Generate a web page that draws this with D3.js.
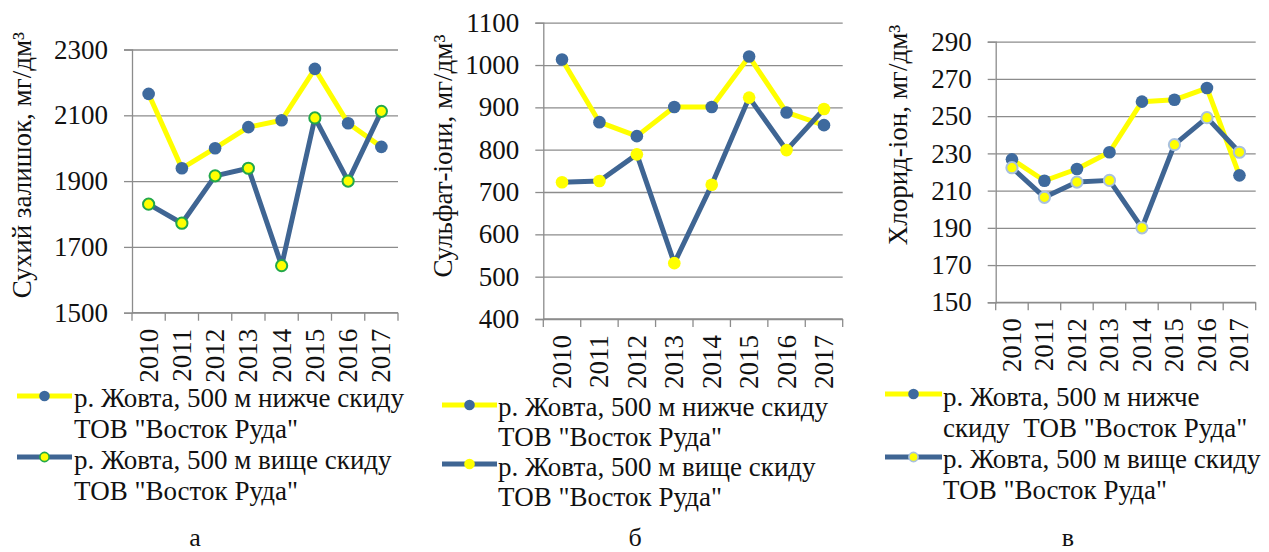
<!DOCTYPE html>
<html>
<head>
<meta charset="utf-8">
<script src="https://cdn.jsdelivr.net/npm/d3@7"></script>
<style>
  html, body { margin: 0; padding: 0; background: #fff; }
  svg text { font-family: "Liberation Serif", "Times New Roman", "DejaVu Serif", serif; }
</style>
</head>
<body>
<svg id="chart" width="1269" height="552"></svg>
<script>
// Years shared by all three panels
const years = ["2010", "2011", "2012", "2013", "2014", "2015", "2016", "2017"];

// а — dry residue, mg/dm³
const dryBelow = [2165, 1939, 2000, 2064, 2085, 2241, 2076, 2004];
const dryAbove = [1830, 1772, 1916, 1939, 1643, 2092, 1900, 2112];
const dryTicks = [1500, 1700, 1900, 2100, 2300];

// б — sulfate ions, mg/dm³
const sulfBelow = [1013, 865, 832, 901, 901, 1020, 888, 858];
const sulfAbove = [723, 726, 789, 532, 717, 923, 799, 896];
const sulfTicks = [400, 500, 600, 700, 800, 900, 1000, 1100];

// в — chloride ion, mg/dm³
const chlorBelow = [226.8, 215.3, 221.6, 230.6, 257.8, 258.8, 265.1, 218.2];
const chlorAbove = [222.3, 206.4, 214.6, 215.5, 190, 234.7, 249.2, 230.6];
const chlorTicks = [150, 170, 190, 210, 230, 250, 270, 290];

const SERIF = "'Liberation Serif', 'Times New Roman', 'DejaVu Serif', serif";
const YELLOW = "#ffff00";
const BLUE_LINE = "#3f6593";
const BLUE_DOT = "#3e6a9e";
const GRID = "#8c8c8c";
const TICK_FONT = 27;
const TITLE_FONT = 27;
const LEGEND_FONT = 27;

const svg = d3.select("#chart");

const panels = [
  {
    below: dryBelow, above: dryAbove, ticks: dryTicks,
    x0: 132, x1: 398, yBottom: 312.7, yTop: 49.5,
    title: "Сухий залишок, мг/дм³", titleX: 22, titleY: 165,
    aboveStroke: "#22a84a",
    legend: { sx0: 17, sx1: 72, tx: 74, sy: [396, 457], ty: [398, 429, 460, 491],
              lines: [["р. Жовта, 500 м нижче скиду", "ТОВ \"Восток Руда\""],
                      ["р. Жовта, 500 м вище скиду", "ТОВ \"Восток Руда\""]] },
    caption: "а", capX: 195
  },
  {
    below: sulfBelow, above: sulfAbove, ticks: sulfTicks,
    x0: 543.3, x1: 842.7, yBottom: 319, yTop: 22.7,
    title: "Сульфат-іони, мг/дм³", titleX: 443, titleY: 156,
    aboveStroke: null,
    legend: { sx0: 442, sx1: 497, tx: 498, sy: [405, 464], ty: [407, 437, 467, 497],
              lines: [["р. Жовта, 500 м нижче скиду", "ТОВ \"Восток Руда\""],
                      ["р. Жовта, 500 м вище скиду", "ТОВ \"Восток Руда\""]] },
    caption: "б", capX: 635
  },
  {
    below: chlorBelow, above: chlorAbove, ticks: chlorTicks,
    x0: 995.7, x1: 1255.7, yBottom: 302.3, yTop: 41.7,
    title: "Хлорид-іон, мг/дм³", titleX: 898, titleY: 135,
    aboveStroke: "#a9c1de",
    legend: { sx0: 885, sx1: 942, tx: 943, sy: [394, 457], ty: [397, 428, 459, 490],
              lines: [["р. Жовта, 500 м нижче", "скиду  ТОВ \"Восток Руда\""],
                      ["р. Жовта, 500 м вище скиду", "ТОВ \"Восток Руда\""]] },
    caption: "в", capX: 1068
  }
];

panels.forEach(p => {
  const g = svg.append("g");
  const x = d3.scaleBand().domain(years).range([p.x0, p.x1]).paddingInner(0).paddingOuter(0);
  const y = d3.scaleLinear().domain([p.ticks[0], p.ticks[p.ticks.length - 1]]).range([p.yBottom, p.yTop]);

  // horizontal gridlines
  g.append("g")
    .attr("transform", `translate(${p.x0},0)`)
    .call(d3.axisLeft(y).tickValues(p.ticks).tickSize(-(p.x1 - p.x0)).tickFormat(""))
    .call(a => a.select(".domain").remove())
    .call(a => a.selectAll("line").attr("stroke", GRID).attr("stroke-width", 1.3));

  // value axis
  const yAxis = g.append("g")
    .attr("transform", `translate(${p.x0},0)`)
    .call(d3.axisLeft(y).tickValues(p.ticks).tickSize(8).tickPadding(16).tickFormat(d3.format("d")))
    .attr("font-family", SERIF).attr("font-size", TICK_FONT);
  yAxis.select(".domain").attr("stroke", GRID).attr("stroke-width", 1.3);
  yAxis.selectAll("line").attr("stroke", GRID).attr("stroke-width", 1.3);
  yAxis.selectAll("text").attr("fill", "#111")
    .style("font-family", SERIF).style("font-size", TICK_FONT + "px");

  // category axis with tick marks between years
  const xAxis = g.append("g").attr("transform", `translate(0,${p.yBottom})`);
  xAxis.append("line")
    .attr("x1", p.x0).attr("x2", p.x1).attr("stroke", GRID).attr("stroke-width", 1.3);
  const bounds = years.map(d => x(d)).concat([x(years[years.length - 1]) + x.bandwidth()]);
  xAxis.selectAll("line.tk").data(bounds).enter().append("line").attr("class", "tk")
    .attr("x1", d => d).attr("x2", d => d).attr("y1", 0).attr("y2", 8)
    .attr("stroke", GRID).attr("stroke-width", 1.3);
  xAxis.selectAll("text").data(years).enter().append("text")
    .attr("transform", d => `translate(${x(d) + x.bandwidth() / 2},16) rotate(-90)`)
    .attr("text-anchor", "end").attr("dominant-baseline", "central")
    .style("font-family", SERIF).style("font-size", TICK_FONT + "px").attr("fill", "#111").text(d => d);

  // axis title
  g.append("text")
    .attr("transform", `translate(${p.titleX},${p.titleY}) rotate(-90)`)
    .attr("text-anchor", "middle").attr("dominant-baseline", "central")
    .style("font-family", SERIF).style("font-size", TITLE_FONT + "px").attr("fill", "#111").text(p.title);

  const cx = (d, i) => x(years[i]) + x.bandwidth() / 2;
  const line = d3.line().x((d, i) => cx(d, i)).y(d => y(d));

  // downstream series: yellow line, blue markers
  g.append("path").datum(p.below).attr("d", line)
    .attr("fill", "none").attr("stroke", YELLOW).attr("stroke-width", 5).attr("stroke-linejoin", "round");
  g.selectAll("circle.below").data(p.below).enter().append("circle").attr("class", "below")
    .attr("cx", cx).attr("cy", d => y(d)).attr("r", 6.3).attr("fill", BLUE_DOT);

  // upstream series: blue line, yellow markers
  g.append("path").datum(p.above).attr("d", line)
    .attr("fill", "none").attr("stroke", BLUE_LINE).attr("stroke-width", 5).attr("stroke-linejoin", "round");
  g.selectAll("circle.above").data(p.above).enter().append("circle").attr("class", "above")
    .attr("cx", cx).attr("cy", d => y(d)).attr("r", p.aboveStroke ? 5.6 : 6.3)
    .attr("fill", YELLOW)
    .attr("stroke", p.aboveStroke || "none").attr("stroke-width", p.aboveStroke ? 2 : 0);

  // legend
  const L = p.legend;
  const styles = [
    { line: YELLOW, fill: BLUE_DOT, stroke: "none", r: 5.3 },
    { line: BLUE_LINE, fill: YELLOW, stroke: p.aboveStroke || "none", r: p.aboveStroke ? 4.6 : 5.3 }
  ];
  styles.forEach((s, k) => {
    g.append("line").attr("x1", L.sx0).attr("x2", L.sx1).attr("y1", L.sy[k]).attr("y2", L.sy[k])
      .attr("stroke", s.line).attr("stroke-width", 5);
    g.append("circle").attr("cx", (L.sx0 + L.sx1) / 2).attr("cy", L.sy[k]).attr("r", s.r)
      .attr("fill", s.fill).attr("stroke", s.stroke).attr("stroke-width", s.stroke === "none" ? 0 : 1.6);
    L.lines[k].forEach((t, j) => {
      g.append("text").attr("x", L.tx).attr("y", L.ty[k * 2 + j])
        .attr("dominant-baseline", "central")
        .style("font-family", SERIF).style("font-size", LEGEND_FONT + "px").attr("fill", "#111")
        .style("white-space", "pre").text(t);
    });
  });

  // panel caption
  g.append("text").attr("x", p.capX).attr("y", 546).attr("text-anchor", "middle")
    .style("font-family", SERIF).style("font-size", "26px").attr("fill", "#111").text(p.caption);
});
</script>
</body>
</html>
